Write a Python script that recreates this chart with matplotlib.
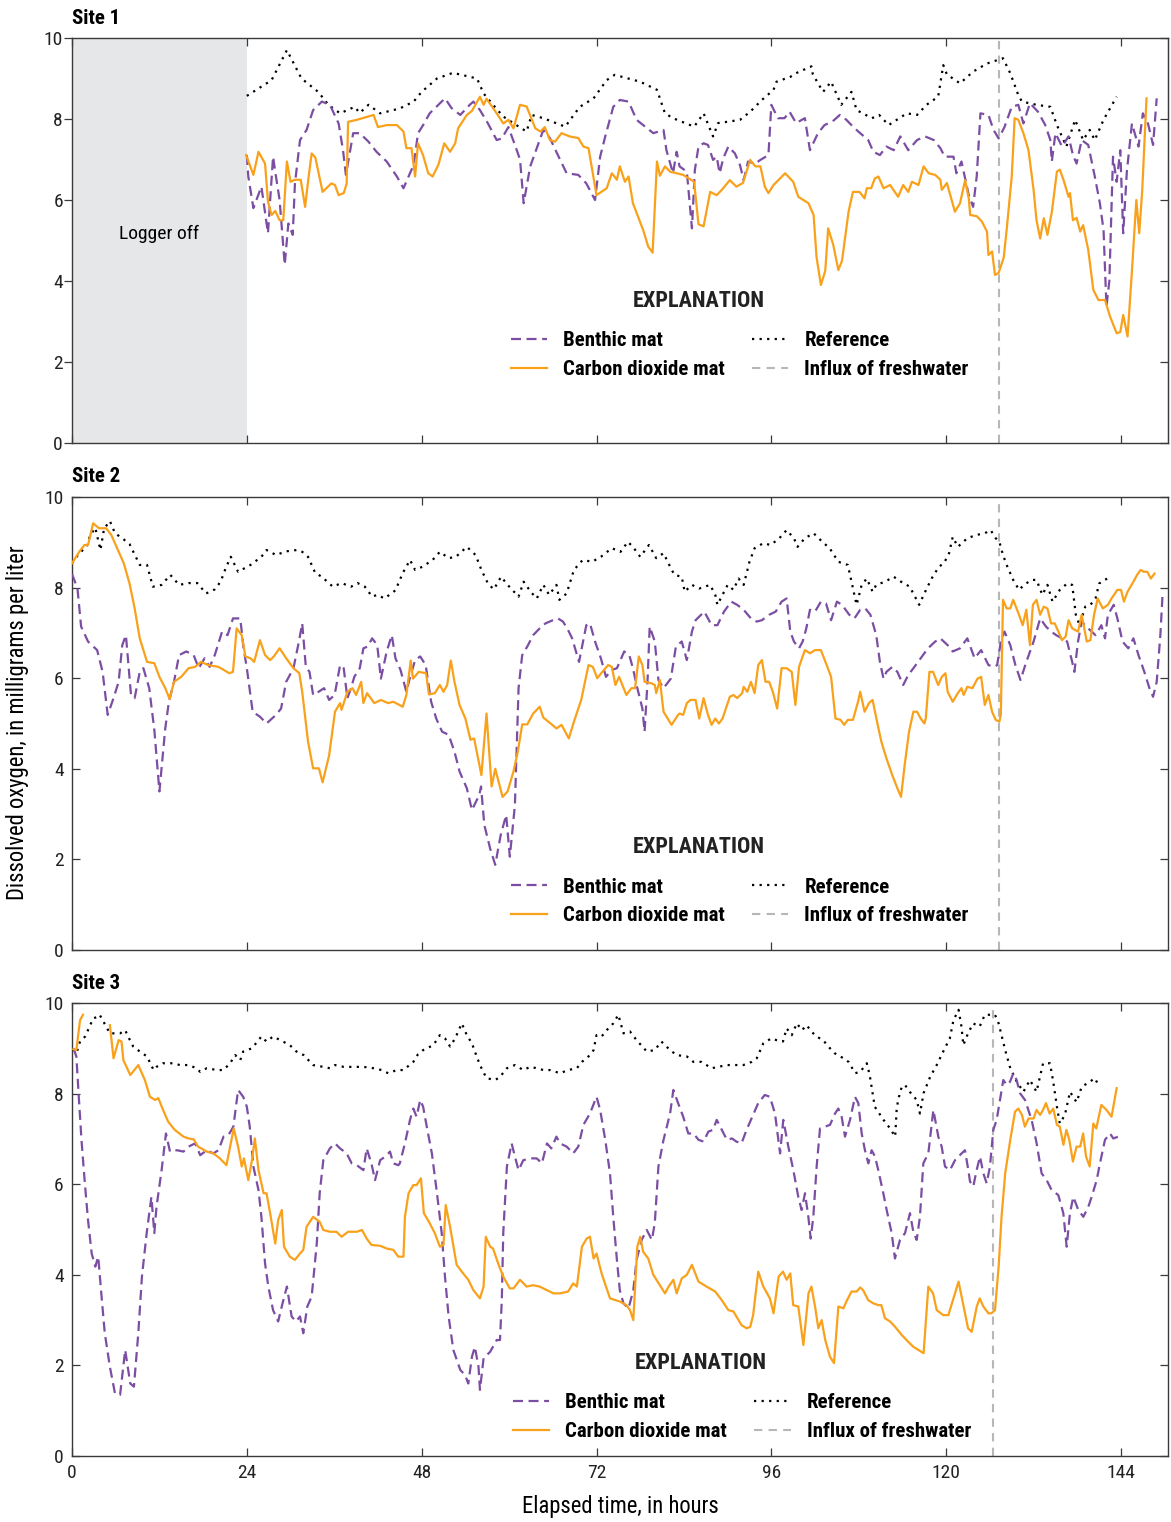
import numpy as np
import matplotlib.pyplot as plt
from matplotlib import font_manager as fm

# pick a narrow face if one is installed (reference uses a condensed sans)
_fonts = fm.fontManager.ttflist
_names = {f.name for f in _fonts}
if 'Liberation Sans Narrow' in _names:
    plt.rcParams['font.family'] = ['Liberation Sans Narrow', 'DejaVu Sans']
    font_note = 'narrow'
elif 'Roboto Condensed' in _names:
    plt.rcParams['font.family'] = ['Roboto Condensed', 'DejaVu Sans']
    font_note = 'roboto-c'
elif any(f.name == 'DejaVu Sans' and 'condensed' in str(f.stretch) for f in _fonts):
    plt.rcParams['font.family'] = ['DejaVu Sans']
    plt.rcParams['font.stretch'] = 'condensed'
    font_note = 'dejavu-c'
else:
    plt.rcParams['font.family'] = ['Liberation Sans', 'DejaVu Sans']
    font_note = 'liberation'

# ---------------- data (elapsed hours, dissolved oxygen mg/L) ----------------
# Site 1
s1_ref_t = [24.0, 27.4, 29.5, 31.5, 33.8, 35.2, 36.8, 38.8, 39.5, 40.7, 42.3, 45.0, 46.9, 48.0, 50.1, 52.3,
            55.6, 56.5, 57.8, 59.2, 61.0, 62.4, 63.1, 64.7, 67.7, 69.7, 71.6, 73.4, 74.5, 78.0, 80.3, 81.4,
            82.5, 85.4, 86.7, 88.0, 88.7, 90.3, 91.7, 93.1, 94.7, 96.3, 96.7, 98.6, 99.5, 101.5, 101.7, 103.1,
            104.2, 105.6, 107.0, 107.7, 109.8, 110.8, 112.1, 114.6, 116.0, 117.3, 118.9, 119.6, 120.1, 121.9,
            123.7, 125.6, 127.8, 128.8, 129.9, 130.4, 132.4, 134.3, 135.2, 136.5, 137.7, 138.8, 139.7, 140.4,
            141.6, 143.4]
s1_ref_v = [8.57, 8.96, 9.70, 9.0, 8.67, 8.35, 8.14, 8.30, 8.15, 8.35, 8.14, 8.26, 8.43, 8.67, 9.0, 9.14,
            9.0, 8.63, 8.35, 8.06, 7.85, 7.69, 8.1, 8.02, 7.81, 8.30, 8.51, 8.96, 9.09, 8.92, 8.72, 8.14,
            8.02, 7.81, 8.14, 7.57, 7.9, 7.94, 7.98, 8.18, 8.47, 8.72, 8.92, 9.04, 9.14, 9.3, 9.1, 8.67,
            8.92, 8.35, 8.67, 8.22, 8.02, 8.1, 7.85, 8.14, 8.1, 8.35, 8.55, 9.33, 9.1, 8.88,
            9.17, 9.37, 9.5, 9.13, 8.59, 8.43, 8.35, 8.30, 7.85, 7.32, 7.98, 7.48, 7.73, 7.48,
            7.98, 8.55]

s1_co2_t = [23.9, 24.9, 25.6, 26.5, 26.9, 27.4, 27.9, 28.5, 29.0, 29.5, 30.0, 30.6, 31.4, 32.0, 32.5, 32.9,
            33.4, 34.4, 35.6, 36.1, 36.6, 37.3, 37.7, 37.9, 39.1, 41.4, 42.0, 43.2, 44.6, 45.5, 45.9, 46.6,
            47.1, 47.5, 48.2, 48.9, 49.5, 50.3, 51.1, 51.9, 52.6, 53.0, 54.2, 54.9, 56.0, 56.5, 56.9, 58.3,
            59.2, 59.9, 60.6, 61.5, 62.4, 63.6, 64.3, 64.9, 65.6, 66.3, 67.2, 68.3, 69.5, 70.2, 70.9, 72.0,
            73.4, 74.1, 74.8, 75.2, 75.9, 76.4, 77.0, 78.4, 79.1, 79.7, 80.3, 80.7, 81.4, 82.1, 83.9, 85.4,
            86.0, 86.7, 87.6, 88.5, 89.2, 90.3, 91.2, 92.1, 93.1, 93.8, 94.5, 95.1, 95.6, 96.3, 97.9, 99.0,
            99.7, 101.1, 101.8, 102.2, 102.8, 103.4, 103.8, 104.5, 105.2, 105.7, 106.6, 107.2, 108.1, 108.8,
            109.1, 109.7, 110.2, 110.7, 111.4, 112.3, 113.4, 114.1, 114.8, 115.3, 116.2, 116.9, 117.6, 118.5,
            119.2, 119.4, 120.1, 121.2, 121.9, 122.6, 123.1, 123.3, 124.2, 124.9, 125.6, 125.8, 126.3, 126.7,
            127.2, 127.9, 128.3, 129.0, 129.4, 129.9, 130.6, 131.3, 132.0, 132.4, 132.9, 133.4, 133.9, 134.5,
            135.2, 135.6, 136.1, 136.8, 137.0, 137.4, 137.9, 138.4, 138.8, 139.5, 140.2, 140.9, 141.8, 142.5,
            143.4, 143.9, 144.3, 144.9, 145.5, 146.1, 146.5, 146.9, 147.5]
s1_co2_v = [7.11, 6.62, 7.19, 6.9, 5.96, 5.63, 5.73, 5.5, 5.5, 6.95, 6.45, 6.5, 6.5, 5.83, 6.6, 7.15,
            7.05, 6.2, 6.41, 6.37, 6.12, 6.17, 6.4, 7.93, 7.98, 8.1, 7.8, 7.85, 7.85, 7.69, 7.28, 7.28,
            6.58, 7.4, 7.1, 6.66, 6.58, 6.87, 7.4, 7.19, 7.4, 7.77, 8.1, 8.2, 8.55, 8.35, 8.5, 8.14,
            7.89, 7.98, 7.77, 8.35, 8.31, 7.77, 7.69, 7.8, 7.48, 7.44, 7.65, 7.57, 7.53, 7.32, 7.28, 6.12,
            6.29, 6.66, 6.5, 6.83, 6.45, 6.58, 5.92, 5.26, 4.85, 4.70, 6.95, 6.6, 6.83, 6.7, 6.62, 6.45,
            5.40, 5.35, 6.2, 6.12, 6.25, 6.49, 6.33, 6.42, 6.99, 6.83, 6.83, 6.33, 6.17, 6.37, 6.66, 6.45,
            6.08, 5.92, 5.63, 4.6, 3.9, 4.25, 5.3, 4.89, 4.27, 4.5, 5.71, 6.2, 6.2, 6.04,
            6.29, 6.29, 6.53, 6.58, 6.29, 6.37, 6.08, 6.37, 6.2, 6.45, 6.37, 6.83, 6.66, 6.62,
            6.5, 6.25, 6.42, 5.71, 5.92, 6.49, 6.04, 5.63, 5.6, 5.47, 5.22, 4.64, 4.73, 4.15,
            4.2, 4.58, 5.26, 6.58, 8.02, 7.98, 7.65, 7.23, 6.25, 5.5, 5.05, 5.55, 5.14, 5.7,
            6.7, 6.75, 6.5, 6.08, 6.17, 5.5, 5.56, 5.22, 5.38, 4.77, 3.78, 3.53, 3.53, 3.12,
            2.71, 2.74, 3.16, 2.63, 4.25, 6.0, 5.18, 6.2, 8.51]

s1_ben_t = [24.0, 24.2, 24.9, 26.0, 26.9, 27.6, 28.0, 28.5, 29.2, 29.7, 30.3, 30.6, 31.3, 32.2, 33.1, 34.3,
            35.4, 36.6, 37.2, 37.6, 38.6, 39.5, 40.7, 41.8, 43.2, 44.6, 45.5, 46.2, 46.9, 47.5, 48.2, 49.1,
            50.0, 51.2, 52.1, 53.3, 54.6, 55.1, 56.0, 57.1, 58.3, 59.0, 59.9, 60.8, 61.5, 62.0, 62.9, 63.8,
            64.7, 65.6, 66.8, 67.9, 69.5, 70.6, 71.8, 72.5, 73.2, 74.3, 75.2, 76.4, 77.5, 78.4, 79.8, 81.2,
            81.6, 82.5, 83.0, 83.4, 84.4, 85.1, 85.5, 86.0, 86.7, 87.3, 88.0, 88.5, 88.9, 89.4, 90.1, 91.0,
            91.7, 92.2, 92.8, 93.8, 94.5, 95.6, 96.0, 96.9, 97.8, 98.5, 99.4, 100.6, 101.3, 102.4, 103.3, 104.4,
            105.4, 106.3, 107.2, 108.2, 109.3, 110.0, 110.9, 111.8, 112.8, 113.7, 114.8, 116.0, 117.1, 118.3,
            119.2, 119.8, 121.0, 121.4, 122.1, 122.6, 123.1, 123.7, 124.2, 124.7, 125.8, 126.5, 127.2, 128.0,
            129.0, 129.9, 130.6, 131.5, 132.6, 133.6, 134.3, 134.5, 135.0, 135.9, 136.8, 137.4, 137.9, 138.6,
            139.5, 140.4, 141.1, 141.6, 142.0, 142.4, 142.9, 143.4, 143.9, 144.3, 144.8, 145.5, 146.4, 147.0,
            147.7, 148.4, 148.9]
s1_ben_v = [7.11, 6.58, 5.8, 6.33, 5.18, 7.07, 6.58, 6.0, 4.4, 5.42, 5.14, 6.4, 7.48, 7.73, 8.22, 8.43,
            8.35, 7.89, 7.23, 6.62, 7.65, 7.65, 7.44, 7.19, 6.95, 6.58, 6.29, 6.58, 6.87, 7.65, 7.85, 8.14,
            8.3, 8.51, 8.27, 8.1, 8.35, 8.43, 8.22, 7.89, 7.48, 7.52, 7.8, 7.36, 7.0, 5.92, 6.83, 7.28,
            7.73, 7.53, 7.07, 6.66, 6.62, 6.41, 6.0, 7.07, 7.57, 8.3, 8.47, 8.43, 7.98, 7.85, 7.65, 7.73,
            7.23, 6.66, 7.19, 6.83, 6.7, 5.3, 6.74, 7.32, 7.4, 7.36, 6.99, 7.07, 6.66, 7.03, 7.32, 7.15,
            6.86, 6.49, 6.95, 6.9, 6.99, 7.11, 8.35, 8.02, 8.02, 8.18, 7.9, 8.02, 7.23, 7.65, 7.85, 7.94,
            8.1, 7.98, 7.81, 7.65, 7.48, 7.19, 7.11, 7.32, 7.23, 7.57, 7.23, 7.48, 7.57, 7.48,
            7.28, 7.07, 7.07, 6.66, 6.95, 6.53, 6.12, 5.83, 6.6, 8.14, 8.1, 7.73, 7.52, 7.8,
            8.3, 8.35, 7.89, 8.39, 8.18, 7.85, 7.48, 6.95, 7.65, 7.32, 7.57, 7.11, 6.9, 7.48,
            7.36, 6.58, 5.92, 5.26, 3.37, 4.0, 7.07, 6.45, 7.23, 5.18, 6.7, 7.89, 7.32, 8.14,
            7.89, 7.36, 8.51]

# Site 2
s2_ref_t = [0.0, 1.0, 2.0, 2.5, 3.2, 3.9, 4.4, 5.2, 5.9, 6.9, 7.9, 9.3, 10.3, 11.1, 12.3, 13.5, 14.7, 16.0,
            17.2, 18.4, 19.6, 20.4, 21.1, 21.8, 22.8, 24.5, 26.0, 26.7, 28.0, 29.4, 30.9, 31.6, 32.4, 33.4,
            34.3, 35.8, 37.0, 38.3, 39.2, 40.2, 41.2, 41.9, 42.9, 44.4, 45.4, 46.4, 47.1, 48.1, 49.5, 50.5,
            51.7, 52.7, 54.2, 55.4, 56.2, 57.1, 57.9, 58.9, 59.8, 61.3, 62.0, 63.0, 63.8, 64.7, 65.5, 66.5,
            66.9, 67.9, 68.9, 70.1, 71.4, 72.6, 74.1, 75.3, 76.3, 77.0, 78.0, 79.2, 80.2, 81.2, 82.2, 82.7,
            83.7, 84.1, 85.1, 86.1, 87.6, 88.3, 88.6, 89.3, 90.0, 90.8, 91.5, 92.2, 93.0, 93.7, 94.9, 95.9,
            97.1, 98.1, 99.1, 99.6, 100.6, 101.8, 103.0, 104.0, 105.2, 106.5, 107.2, 107.7, 108.4, 109.1,
            109.9, 110.4, 111.6, 112.8, 113.8, 115.0, 116.3, 117.0, 118.0, 119.0, 119.7, 120.4, 120.9, 121.6,
            122.9, 124.1, 125.3, 126.1, 126.8, 127.3, 127.8, 128.3, 129.2, 130.0, 130.7, 131.7, 132.4, 133.2,
            133.9, 134.6, 135.6, 136.6, 137.3, 137.8, 138.3, 139.1, 139.8, 140.5, 141.0, 141.7, 142.2]
s2_ref_v = [8.54, 8.76, 8.9, 9.16, 9.32, 8.83, 9.3, 9.47, 9.2, 9.09, 8.96, 8.5, 8.5, 8.02, 8.06, 8.28, 8.06, 8.1,
            8.1, 7.87, 7.96, 8.13, 8.43, 8.68, 8.35, 8.5, 8.68, 8.83, 8.72, 8.8, 8.83, 8.79, 8.68, 8.32,
            8.24, 8.02, 8.1, 8.02, 8.1, 8.02, 7.8, 7.84, 7.76, 7.94, 8.32, 8.61, 8.39, 8.46, 8.61, 8.79,
            8.65, 8.68, 8.9, 8.72, 8.39, 8.09, 7.96, 8.24, 8.06, 7.8, 8.13, 7.9, 7.76, 8.06, 7.84, 8.06,
            7.73, 7.87, 8.39, 8.61, 8.57, 8.68, 8.87, 8.79, 9.01, 8.90, 8.68, 8.94, 8.65, 8.76, 8.43, 8.28,
            8.24, 7.91, 8.06, 7.98, 8.06, 7.84, 7.62, 7.84, 8.06, 7.95, 8.2, 8.06, 8.57, 8.87, 8.98, 8.94,
            9.09, 9.27, 9.09, 8.9, 9.09, 9.2, 9.01, 8.87, 8.57, 8.5, 7.98, 7.62, 8.06, 8.2,
            7.91, 8.06, 8.13, 8.24, 8.13, 8.02, 7.62, 7.87, 8.2, 8.46, 8.54, 8.76, 9.12, 8.9,
            9.09, 9.16, 9.2, 9.27, 9.09, 9.01, 8.72, 8.5, 8.17, 7.95, 8.06, 8.17, 8.17, 7.84,
            8.06, 7.69, 7.95, 8.09, 8.06, 7.4, 7.17, 7.58, 7.62, 7.76, 8.09, 8.17, 8.2]

s2_co2_t = [0.0, 1.0, 1.7, 2.2, 2.9, 3.7, 4.7, 5.4, 6.2, 7.1, 7.9, 8.6, 9.3, 10.3, 11.3, 12.0, 12.8, 13.4,
            14.0, 15.0, 16.0, 16.9, 17.7, 18.7, 20.1, 21.6, 22.1, 22.6, 23.3, 23.8, 24.5, 25.0, 25.8, 26.5,
            27.2, 27.7, 28.5, 29.4, 30.4, 31.2, 31.6, 32.4, 33.1, 33.9, 34.4, 35.3, 36.1, 36.8, 37.0, 37.8,
            38.5, 39.0, 39.7, 40.0, 40.5, 41.5, 42.4, 43.4, 44.1, 45.4, 45.9, 46.5, 46.8, 47.6, 48.6, 49.0,
            49.8, 50.5, 51.0, 51.5, 52.0, 52.5, 53.2, 54.0, 54.7, 55.2, 56.2, 56.9, 57.6, 58.1, 59.1, 59.8,
            60.6, 61.2, 61.8, 62.5, 63.3, 64.2, 64.7, 65.7, 66.5, 67.2, 68.2, 68.9, 69.9, 70.9, 71.5, 72.1,
            72.8, 73.6, 74.1, 74.6, 75.1, 76.1, 76.8, 77.3, 77.8, 78.3, 78.6, 79.5, 80.0, 80.2, 80.7, 81.2,
            82.3, 83.2, 83.4, 83.9, 84.4, 84.9, 85.6, 86.1, 86.7, 87.3, 87.8, 88.3, 88.8, 89.3, 90.3, 90.8,
            91.3, 92.0, 92.2, 92.7, 93.2, 93.7, 94.2, 94.7, 95.2, 95.7, 96.2, 96.8, 97.4, 98.1, 98.8, 99.3,
            99.8, 100.6, 101.3, 102.0, 102.8, 103.5, 104.2, 104.8, 105.5, 106.0, 106.5, 107.2, 107.9, 108.2,
            108.8, 109.4, 109.9, 110.6, 111.1, 111.8, 112.6, 113.3, 113.8, 114.3, 114.9, 115.5, 116.0, 116.5,
            117.0, 117.2, 117.7, 118.2, 118.9, 119.4, 119.9, 120.2, 120.9, 121.6, 122.1, 122.4, 122.9, 123.6,
            124.3, 124.8, 125.3, 125.8, 126.3, 126.8, 127.3, 127.5, 127.8, 128.3, 128.8, 129.2, 130.0, 130.5,
            131.0, 131.5, 131.9, 132.4, 132.9, 133.4, 133.9, 134.4, 134.9, 135.4, 135.9, 136.4, 136.8, 137.3,
            138.1, 138.6, 139.3, 139.8, 140.3, 140.8, 141.5, 142.2, 142.7, 143.5, 144.0, 144.4, 144.9, 145.7,
            146.2, 146.7, 147.1, 147.6, 148.1, 148.6]
s2_co2_v = [8.54, 8.79, 8.94, 8.94, 9.42, 9.31, 9.31, 9.16, 8.87, 8.54, 8.09, 7.54, 6.88, 6.36, 6.33, 6.03, 5.78, 5.54,
            5.92, 6.03, 6.22, 6.25, 6.36, 6.29, 6.25, 6.11, 6.14, 7.10, 6.95, 6.48, 6.44, 6.36, 6.84, 6.51,
            6.40, 6.48, 6.66, 6.44, 6.22, 6.11, 5.70, 4.60, 4.01, 4.01, 3.70, 4.30, 5.26, 5.45, 5.30, 5.70,
            5.78, 5.63, 5.92, 5.45, 5.67, 5.45, 5.52, 5.45, 5.48, 5.37, 5.63, 6.39, 5.99, 6.14, 6.11, 5.64,
            5.67, 5.85, 5.70, 5.85, 6.39, 5.92, 5.41, 5.11, 4.64, 4.67, 3.86, 5.22, 3.61, 4.0, 3.38, 3.50,
            3.94, 4.38, 4.98, 4.98, 5.22, 5.37, 5.13, 5.0, 4.89, 4.97, 4.67, 5.04, 5.52, 6.29, 6.25, 6.0,
            6.14, 6.29, 6.25, 5.85, 6.03, 5.63, 5.78, 5.78, 6.48, 6.29, 5.92, 5.89, 5.85, 5.67, 5.96, 5.26,
            4.97, 5.19, 5.22, 5.19, 5.45, 5.52, 5.52, 5.11, 5.56, 5.19, 4.97, 5.11, 5.0, 5.11, 5.59, 5.63,
            5.56, 5.67, 5.81, 5.70, 5.92, 5.67, 6.29, 6.40, 5.92, 5.92, 5.70, 5.33, 6.22, 6.22, 6.14, 5.41,
            6.25, 6.62, 6.55, 6.62, 6.62, 6.33, 6.03, 5.11, 5.08, 4.97, 5.08, 5.08, 5.48, 5.70,
            5.26, 5.45, 5.52, 4.97, 4.60, 4.23, 3.86, 3.57, 3.38, 4.08, 4.82, 5.26, 5.26, 5.11,
            5.0, 5.11, 6.14, 6.14, 5.85, 6.03, 6.11, 5.70, 5.48, 5.67, 5.78, 5.63, 5.81, 5.78,
            5.99, 6.03, 5.41, 5.63, 5.26, 5.08, 5.04, 5.19, 7.73, 7.54, 7.54, 7.73, 7.40, 7.17,
            7.51, 6.73, 7.62, 7.73, 7.40, 7.58, 7.54, 7.21, 7.21, 7.03, 6.84, 6.92, 7.28, 7.10,
            7.03, 7.40, 6.81, 6.84, 7.40, 7.76, 7.54, 7.62, 7.76, 7.95, 7.95, 7.69, 7.91, 8.13,
            8.28, 8.39, 8.35, 8.35, 8.20, 8.31]

s2_ben_t = [0.0, 0.75, 1.25, 2.2, 3.45, 4.2, 4.9, 5.7, 6.4, 6.9, 7.4, 8.1, 8.6, 9.3, 9.8, 10.6, 11.3, 12.0,
            12.8, 13.3, 14.0, 14.7, 15.7, 16.7, 17.4, 18.2, 18.9, 19.6, 20.6, 21.35, 22.1, 23.1, 23.55, 24.0,
            24.8, 25.8, 26.7, 28.0, 28.7, 29.4, 30.4, 31.15, 31.6, 32.1, 32.6, 33.1, 33.85, 34.6, 35.3, 36.05,
            36.8, 37.3, 37.8, 38.3, 38.75, 39.5, 40.0, 40.6, 41.2, 41.9, 42.4, 43.2, 43.9, 44.4, 45.1, 45.9,
            46.35, 47.1, 47.8, 48.55, 49.3, 50.0, 50.8, 51.7, 52.5, 53.2, 54.2, 54.9, 55.9, 56.15, 56.6, 57.4,
            58.1, 58.85, 59.6, 60.1, 60.8, 61.06, 61.3, 61.8, 62.5, 63.3, 64.2, 65.0, 66.0, 66.7, 67.4, 68.2,
            68.65, 69.6, 70.6, 71.1, 71.8, 72.6, 73.3, 74.05, 74.8, 75.8, 76.5, 77.0, 77.5, 78.3, 78.6, 79.0,
            79.3, 80.0, 80.5, 81.2, 82.2, 82.9, 83.7, 84.4, 85.1, 85.6, 86.8, 87.8, 88.6, 89.5, 90.5, 91.3,
            92.2, 93.2, 94.0, 94.7, 95.7, 96.6, 97.4, 98.1, 98.6, 99.1, 99.8, 100.3, 100.8, 101.3, 102.0, 102.8,
            103.5, 104.2, 105.0, 105.7, 106.7, 107.4, 108.2, 108.9, 109.6, 110.4, 110.9, 111.4, 111.8, 112.6,
            113.3, 114.1, 114.8, 115.5, 116.5, 117.5, 118.5, 119.2, 120.2, 120.9, 121.9, 122.9, 123.9, 124.8,
            125.8, 126.6, 127.0, 127.5, 128.0, 128.8, 129.5, 130.2, 131.0, 132.0, 132.9, 133.7, 134.4, 135.1,
            135.9, 136.6, 137.3, 137.6, 138.1, 138.6, 139.5, 140.5, 141.3, 141.8, 142.2, 143.0, 143.5, 144.2,
            145.0, 145.7, 146.4, 147.2, 147.9, 148.4, 148.9, 149.4, 149.7]
s2_ben_v = [8.3, 7.98, 7.14, 6.81, 6.62, 6.14, 5.19, 5.56, 5.92, 6.73, 6.95, 5.63, 5.56, 6.14, 6.22, 5.78, 4.86, 3.50,
            4.89, 5.48, 5.92, 6.51, 6.59, 6.51, 6.22, 6.44, 6.25, 6.51, 7.03, 6.95, 7.32, 7.32, 6.66, 6.22,
            5.26, 5.15, 5.0, 5.19, 5.33, 5.92, 6.22, 6.81, 7.21, 6.25, 6.14, 5.63, 5.70, 5.78, 5.52, 5.63,
            6.29, 6.22, 5.56, 5.78, 6.03, 6.22, 6.66, 6.70, 6.88, 6.73, 5.99, 6.59, 6.95, 6.44, 6.18, 5.70,
            5.99, 6.40, 6.48, 6.29, 5.48, 5.11, 4.82, 4.75, 4.38, 3.94, 3.57, 3.09, 3.42, 3.61, 2.76, 2.24,
            1.88, 2.54, 2.98, 2.06, 3.20, 4.53, 5.78, 6.51, 6.70, 6.95, 7.10, 7.21, 7.28, 7.32, 7.25, 7.03,
            6.88, 6.36, 7.17, 7.21, 6.81, 6.44, 6.03, 6.18, 6.22, 6.59, 6.51, 6.22, 5.85, 5.33, 4.82, 5.92,
            7.14, 6.81, 5.96, 5.78, 5.99, 6.70, 6.81, 6.40, 7.03, 7.28, 7.47, 7.17, 7.17, 7.47, 7.69, 7.62,
            7.51, 7.32, 7.25, 7.28, 7.40, 7.47, 7.69, 7.76, 7.03, 6.81, 6.66, 6.81, 7.10, 7.51, 7.47, 7.69,
            7.65, 7.28, 7.69, 7.62, 7.40, 7.32, 7.51, 7.54, 7.40, 6.95, 6.36, 5.99, 6.14, 6.25,
            6.14, 5.85, 6.07, 6.22, 6.44, 6.66, 6.81, 6.88, 6.73, 6.59, 6.66, 6.88, 6.44, 6.62,
            6.29, 6.25, 6.29, 6.81, 7.03, 6.73, 6.29, 5.96, 6.36, 6.81, 7.32, 7.14, 7.03, 6.95,
            6.88, 6.81, 6.36, 6.14, 6.81, 7.25, 7.10, 6.95, 7.17, 6.88, 7.40, 7.62, 7.32, 6.81,
            6.66, 6.88, 6.51, 6.14, 5.78, 5.59, 5.92, 6.95, 7.84]

# Site 3
s3_ref_t = [0.2, 0.6, 1.1, 1.8, 2.5, 2.9, 3.6, 3.8, 5.2, 5.9, 6.6, 7.3, 7.7, 8.4, 9.3, 10.3, 11.2, 11.6,
            12.5, 13.9, 14.8, 16.0, 17.1, 17.6, 18.5, 19.9, 20.8, 21.7, 22.4, 23.1, 23.5, 24.7, 25.6, 26.0,
            26.7, 27.6, 28.6, 29.9, 30.8, 31.8, 33.1, 34.5, 35.4, 36.1, 37.3, 38.6, 40.0, 41.4, 42.5, 43.4,
            44.6, 45.5, 46.85, 47.5, 48.2, 49.6, 50.5, 51.2, 51.9, 52.6, 53.5, 54.2, 54.9, 55.3, 56.0, 56.9,
            58.1, 58.75, 59.7, 60.8, 61.95, 62.9, 63.8, 64.7, 65.6, 67.0, 68.1, 69.3, 70.0, 70.9, 71.6, 72.0,
            72.7, 73.4, 74.3, 75.0, 75.7, 76.6, 77.5, 78.9, 80.0, 80.9, 82.1, 83.0, 84.4, 85.3, 86.4, 87.8,
            88.7, 89.9, 91.0, 92.15, 93.3, 94.0, 94.9, 96.0, 96.7, 97.6, 98.1, 98.8, 99.5, 100.2, 100.85, 101.5,
            102.2, 103.1, 104.05, 104.7, 105.9, 106.6, 107.5, 108.2, 109.1, 109.5, 110.2, 111.4, 112.3, 113.0,
            113.2, 113.4, 113.9, 114.35, 115.0, 115.95, 116.4, 116.9, 117.8, 118.7, 119.6, 120.5, 121.0, 121.7,
            122.1, 122.35, 123.0, 123.7, 124.6, 125.3, 126.7, 127.2, 128.1, 128.8, 129.7, 130.6, 131.5, 132.4,
            133.3, 134.25, 134.7, 135.2, 135.6, 136.3, 137.0, 137.9, 138.6, 139.7, 140.4, 140.9]
s3_ref_v = [8.98, 8.89, 9.15, 9.26, 9.51, 9.66, 9.70, 9.74, 9.33, 9.33, 9.33, 9.40, 9.26, 9.04, 8.93, 8.82, 8.52, 8.59,
            8.67, 8.67, 8.63, 8.63, 8.56, 8.48, 8.56, 8.52, 8.52, 8.67, 8.85, 8.74, 8.93, 9.0, 9.18, 9.26,
            9.15, 9.26, 9.18, 9.07, 8.93, 8.85, 8.63, 8.59, 8.56, 8.63, 8.59, 8.59, 8.59, 8.56, 8.52, 8.45,
            8.52, 8.52, 8.70, 8.87, 8.96, 9.07, 9.29, 9.22, 9.04, 9.22, 9.55, 9.29, 9.11, 8.93, 8.63, 8.34,
            8.30, 8.37, 8.56, 8.63, 8.52, 8.59, 8.56, 8.52, 8.52, 8.45, 8.52, 8.56, 8.70, 8.82, 8.96, 9.29,
            9.26, 9.40, 9.55, 9.74, 9.33, 9.37, 9.18, 8.93, 8.96, 9.15, 8.96, 8.85, 8.82, 8.70, 8.70, 8.56,
            8.59, 8.63, 8.63, 8.63, 8.70, 8.78, 9.11, 9.22, 9.18, 9.15, 9.44, 9.29, 9.55, 9.40, 9.51, 9.37,
            9.26, 9.18, 9.0, 8.89, 8.78, 8.70, 8.45, 8.48, 8.67, 8.41, 7.71, 7.42, 7.23, 7.05,
            7.64, 7.86, 8.15, 8.19, 8.04, 7.86, 7.56, 8.01, 8.37, 8.63, 8.93, 9.22, 9.62, 9.85,
            9.48, 9.07, 9.33, 9.55, 9.48, 9.74, 9.74, 9.55, 8.96, 8.56, 8.26, 8.04, 8.30, 8.04,
            8.67, 8.67, 8.26, 7.71, 7.34, 7.53, 8.04, 7.81, 8.15, 8.26, 8.34, 8.19]

s3_co2_t = [0.2, 0.6, 1.1, 1.5, 3.3, 5.2, 5.7, 6.4, 6.8, 7.05, 8.0, 9.1, 10.0, 10.7, 11.4, 11.85, 12.5, 13.2,
            14.1, 15.3, 16.0, 16.7, 17.3, 18.5, 19.4, 20.3, 21.2, 21.7, 22.2, 22.8, 23.3, 23.6, 24.2, 24.7,
            25.1, 25.6, 26.3, 26.7, 27.2, 27.9, 28.3, 28.8, 29.1, 29.9, 30.6, 31.3, 31.75, 32.2, 33.1, 34.0,
            34.5, 35.4, 36.3, 37.0, 37.9, 39.1, 39.8, 40.45, 41.1, 42.3, 43.2, 44.1, 44.8, 45.5, 45.7, 46.2,
            46.85, 47.3, 47.9, 48.3, 49.1, 49.8, 50.5, 51.0, 51.3, 51.9, 52.8, 53.7, 54.4, 55.1, 56.0, 56.5,
            56.8, 57.4, 57.8, 58.5, 59.2, 60.1, 60.6, 61.5, 62.4, 63.3, 64.2, 65.2, 66.1, 67.0, 68.1, 68.8,
            69.3, 70.0, 70.65, 71.1, 71.6, 72.0, 72.7, 73.85, 75.2, 76.1, 76.6, 77.05, 77.6, 78.0, 78.4, 79.1,
            79.8, 80.7, 81.4, 81.9, 82.55, 83.0, 83.7, 84.4, 85.1, 86.0, 87.1, 88.3, 89.2, 90.1, 90.8, 91.9,
            92.6, 93.1, 93.5, 94.2, 94.9, 95.8, 96.3, 97.0, 97.6, 98.1, 98.6, 99.0, 99.7, 100.4, 101.1, 101.5,
            102.0, 102.45, 102.9, 103.4, 104.05, 104.6, 105.2, 105.9, 106.3, 107.0, 107.7, 108.2, 108.6, 109.3,
            110.0, 110.7, 111.1, 111.6, 112.3, 113.0, 113.9, 114.8, 115.5, 116.2, 116.9, 117.55, 118.2, 118.7,
            119.6, 120.3, 121.0, 121.7, 122.35, 123.0, 123.5, 124.2, 124.6, 125.1, 125.8, 126.2, 126.7, 127.2,
            127.6, 128.1, 128.8, 129.45, 129.9, 130.4, 130.8, 131.3, 132.0, 132.4, 132.9, 133.3, 133.7, 134.2,
            134.7, 135.2, 135.6, 136.1, 136.5, 136.9, 137.4, 137.9, 138.4, 138.8, 139.2, 139.7, 140.2, 140.6,
            141.3, 142.0, 142.7, 143.4]
s3_co2_v = [8.98, 8.96, 9.62, 9.74, np.nan, 9.51, 8.78, 9.18, 9.15, 8.74, 8.41, 8.63, 8.30, 7.93, 7.86, 7.90, 7.64, 7.38,
            7.20, 7.05, 7.01, 6.99, 6.83, 6.72, 6.68, 6.57, 6.42, 6.83, 7.23, 6.83, 6.39, 6.57, 6.09, 6.53,
            7.01, 6.31, 5.80, 5.80, 5.36, 4.69, 5.21, 5.43, 4.62, 4.40, 4.33, 4.47, 4.55, 5.06, 5.28, 5.17,
            4.99, 4.95, 4.95, 4.84, 4.95, 4.95, 4.99, 4.80, 4.66, 4.64, 4.58, 4.55, 4.40, 4.40, 5.28, 5.80,
            5.98, 5.98, 6.13, 5.36, 5.14, 4.92, 4.62, 4.66, 5.54, 5.06, 4.22, 4.03, 3.89, 3.66, 3.48, 3.74,
            4.84, 4.62, 4.58, 4.25, 3.96, 3.70, 3.70, 3.89, 3.74, 3.77, 3.74, 3.66, 3.59, 3.59, 3.63, 3.81,
            3.74, 4.62, 4.80, 4.84, 4.36, 4.47, 4.03, 3.48, 3.41, 3.33, 3.22, 3.0, 4.62, 4.84, 4.51, 4.36,
            4.0, 3.77, 3.59, 3.74, 3.89, 3.59, 3.92, 4.0, 4.22, 3.85, 3.74, 3.63, 3.44, 3.22, 3.19, 2.89,
            2.82, 2.85, 3.11, 4.07, 3.74, 3.48, 3.15, 3.96, 4.07, 3.89, 4.03, 3.33, 3.30, 2.45, 3.59, 3.74,
            3.30, 2.82, 3.0, 2.56, 2.19, 2.05, 3.30, 3.26, 3.41, 3.63, 3.63, 3.72, 3.66, 3.44,
            3.37, 3.33, 3.33, 3.04, 2.97, 2.85, 2.67, 2.52, 2.41, 2.34, 2.27, 3.74, 3.59, 3.22,
            3.11, 3.11, 3.48, 3.85, 3.33, 2.82, 2.74, 3.30, 3.48, 3.30, 3.15, 3.15, 3.22, 4.18,
            5.28, 6.24, 6.98, 7.60, 7.67, 7.53, 7.27, 7.45, 7.45, 7.64, 7.53, 7.64, 7.79, 7.56,
            7.67, 7.31, 7.27, 6.87, 7.20, 6.98, 6.50, 6.83, 6.83, 7.12, 6.61, 6.39, 7.34, 7.23,
            7.75, 7.64, 7.49, 8.12]

s3_ben_t = [0.2, 0.6, 0.9, 1.3, 1.8, 2.2, 2.7, 3.2, 3.6, 4.1, 4.5, 5.2, 5.9, 6.6, 7.3, 8.0, 8.5, 9.1,
            9.6, 10.25, 10.9, 11.3, 11.6, 12.3, 12.9, 13.45, 14.4, 15.3, 16.0, 16.9, 17.6, 18.5, 19.4, 20.1,
            20.8, 21.5, 22.15, 22.8, 23.5, 24.0, 24.4, 24.9, 25.6, 26.0, 26.5, 26.95, 27.6, 28.3, 28.9, 29.5,
            30.15, 30.75, 31.3, 31.75, 32.3, 32.9, 33.6, 34.0, 34.5, 35.4, 36.1, 36.8, 37.7, 38.4, 39.1, 40.0,
            40.45, 41.1, 41.6, 42.3, 43.0, 43.65, 44.1, 44.8, 45.0, 45.7, 46.4, 46.85, 47.3, 47.8, 48.2, 48.7,
            49.4, 50.1, 50.75, 51.2, 51.7, 52.35, 53.3, 53.95, 54.4, 54.9, 55.3, 55.8, 56.0, 56.5, 57.4, 58.3,
            58.75, 59.0, 59.2, 59.7, 60.35, 60.8, 61.3, 61.95, 62.9, 63.8, 64.5, 65.2, 65.8, 66.5, 67.0, 67.9,
            68.8, 69.5, 70.2, 71.1, 72.0, 72.5, 73.2, 73.85, 74.3, 74.8, 75.2, 75.7, 76.4, 77.05, 77.5, 78.2,
            78.9, 79.6, 80.0, 80.5, 81.2, 82.1, 82.55, 83.2, 83.9, 84.6, 85.3, 86.0, 86.7, 87.35, 88.0, 88.5,
            89.2, 89.9, 90.6, 91.2, 91.9, 92.6, 93.5, 94.2, 95.1, 95.8, 96.5, 96.96, 97.2, 97.64, 98.33, 99.02,
            99.7, 100.16, 100.62, 101.08, 101.4, 101.76, 102.22, 102.68, 103.36, 104.05, 104.74, 105.19, 105.65,
            106.11, 106.8, 107.48, 107.94, 108.4, 108.85, 109.31, 109.77, 110.23, 110.68, 111.37, 111.83, 112.52,
            112.97, 113.66, 114.35, 115.03, 115.49, 115.95, 116.4, 116.86, 117.55, 118.24, 118.92, 119.38, 119.84,
            120.52, 121.21, 122.12, 122.58, 123.04, 123.27, 123.72, 124.18, 124.64, 125.1, 125.56, 126.01, 126.47,
            126.93, 127.39, 127.84, 128.3, 128.76, 129.22, 129.67, 130.13, 130.82, 131.73, 132.42, 133.1, 133.79,
            134.48, 135.39, 136.08, 136.54, 136.99, 137.45, 138.14, 138.83, 139.51, 139.97, 140.66, 141.11, 141.8,
            142.49, 142.94, 143.63]
s3_ben_v = [9.0, 8.82, 8.01, 6.98, 5.95, 5.21, 4.47, 4.18, 4.40, 3.44, 2.71, 1.97, 1.38, 1.35, 2.34, 1.60, 1.53, 2.71,
            3.96, 4.92, 5.72, 4.92, 5.50, 6.31, 7.12, 6.72, 6.75, 6.72, 6.83, 6.90, 6.64, 6.75, 6.68, 6.75,
            7.05, 7.09, 7.27, 8.08, 7.93, 7.71, 7.27, 6.39, 5.87, 5.28, 4.25, 3.74, 3.22, 2.97, 3.37, 3.74,
            3.08, 2.97, 3.08, 2.71, 3.30, 3.52, 4.69, 5.80, 6.53, 6.79, 6.90, 6.79, 6.68, 6.46, 6.42, 6.31,
            6.79, 6.46, 6.09, 6.53, 6.61, 6.72, 6.46, 6.42, 6.46, 6.90, 7.42, 7.67, 7.49, 7.86, 7.71, 7.27,
            6.68, 5.80, 4.92, 3.96, 3.08, 2.34, 1.90, 1.79, 1.60, 2.19, 2.41, 1.97, 1.46, 2.16, 2.30, 2.56,
            2.56, 3.44, 4.92, 6.39, 6.90, 6.61, 6.31, 6.53, 6.57, 6.57, 6.46, 6.90, 6.79, 7.05, 6.90, 6.83,
            6.68, 6.83, 7.31, 7.56, 7.93, 7.64, 6.98, 6.24, 5.28, 4.33, 3.66, 3.37, 3.26, 3.66, 4.33, 4.77,
            4.99, 4.77, 5.14, 6.39, 6.98, 7.56, 8.08, 7.79, 7.49, 7.12, 7.12, 6.98, 6.94, 7.16, 7.20, 7.42,
            7.20, 6.98, 7.01, 6.94, 6.90, 7.20, 7.53, 7.79, 7.97, 7.93, 7.56, 6.98, 6.68, 7.42, 6.83, 6.31,
            5.72, 5.43, 5.80, 5.28, 4.80, 5.28, 6.39, 7.23, 7.27, 7.31, 7.56, 7.67, 7.49,
            7.05, 7.42, 7.93, 7.79, 7.12, 6.75, 6.46, 6.75, 6.61, 6.31, 5.80, 5.43, 4.92,
            4.36, 4.77, 4.92, 5.36, 4.95, 4.77, 5.28, 6.46, 6.68, 7.64, 7.05, 6.83, 6.39,
            6.31, 6.53, 6.68, 6.75, 6.31, 6.06, 5.95, 6.31, 6.61, 6.24, 6.02, 6.39, 7.20,
            7.42, 7.86, 8.30, 8.19, 8.26, 8.45, 8.30, 8.01, 7.86, 7.42, 6.90, 6.24, 6.09,
            5.87, 5.76, 5.36, 4.62, 5.36, 5.72, 5.43, 5.28, 5.50, 5.72, 6.09, 6.46, 6.98,
            7.12, 7.01, 7.05]

freshwater_t = [127.2, 127.2, 126.4]
logger_off = (0, 24)
site_names = ['Site 1', 'Site 2', 'Site 3']

# ---------------- styling ----------------
purple = '#7b4ea3'
orange = '#f9a11b'
fresh_gray = '#b7b7b7'
spine_col = '#3a3a3a'

# text sizes depend on how narrow the chosen face is
if font_note in ('narrow', 'roboto-c', 'dejavu-c'):
    fs_tick, fs_lab, fs_site, fs_expl, fs_leg, fs_note = 14, 16.3, 15, 16, 15, 14
else:
    fs_tick, fs_lab, fs_site, fs_expl, fs_leg, fs_note = 13, 14, 14, 14.5, 13, 13

fig = plt.figure(figsize=(11.71, 15.22), dpi=100)
W, H = 1171, 1522
panel_px = [(38, 443), (497, 950), (1003, 1456)]
left_px, right_px = 72, 1168

series = [
    (s1_ben_t, s1_ben_v, s1_co2_t, s1_co2_v, s1_ref_t, s1_ref_v),
    (s2_ben_t, s2_ben_v, s2_co2_t, s2_co2_v, s2_ref_t, s2_ref_v),
    (s3_ben_t, s3_ben_v, s3_co2_t, s3_co2_v, s3_ref_t, s3_ref_v),
]
expl_pos = [(0.572, 0.351), (0.572, 0.2276), (0.574, 0.2053)]
leg_pos = [(0.6093, 0.217), (0.6093, 0.1075), (0.6113, 0.0855)]

axes = []
for i, (top, bot) in enumerate(panel_px):
    ax = fig.add_axes([left_px / W, 1 - bot / H, (right_px - left_px) / W, (bot - top) / H])
    axes.append(ax)
    bt, bv, ct, cv, rt, rv = series[i]

    if i == 0:
        ax.axvspan(logger_off[0], logger_off[1], color='#e6e7e8', lw=0, zorder=0)
        ax.text(np.mean(logger_off), 5.16, 'Logger off', ha='center', va='center', fontsize=fs_note)

    l_ref, = ax.plot(rt, rv, color='black', lw=1.6, ls=(0, (1, 2.4)), label='Reference', zorder=3)
    l_ben, = ax.plot(bt, bv, color=purple, lw=1.6, ls=(0, (4.5, 2.5)), label='Benthic mat', zorder=4)
    l_co2, = ax.plot(ct, cv, color=orange, lw=1.6, label='Carbon dioxide mat', zorder=5)
    l_fw = ax.axvline(freshwater_t[i], color=fresh_gray, lw=1.5, ls=(0, (4, 3)),
                      label='Influx of freshwater', zorder=2)

    ax.set_xlim(0, 150.45)
    ax.set_ylim(0, 10)
    ax.set_xticks(np.arange(0, 145, 24))
    ax.set_yticks(np.arange(0, 11, 2))
    ax.tick_params(direction='in', top=True, right=True, length=6, width=0.9,
                   colors=spine_col, labelcolor='#222222', labelsize=fs_tick, pad=6)
    if i < 2:
        ax.tick_params(labelbottom=False)
    if i == 0:
        # left ticks point outward beside the grey band, right ticks stay inward
        ax.tick_params(axis='y', direction='out', right=False, pad=0.5)
        sec = ax.secondary_yaxis('right')
        sec.set_yticks(np.arange(0, 11, 2))
        sec.tick_params(direction='in', length=6, width=0.9, colors=spine_col, labelright=False)
        sec.spines['right'].set_color(spine_col)
    for s in ax.spines.values():
        s.set_color(spine_col)
        s.set_linewidth(1.0)

    ax.text(0.0, 1.0 + 20 / (bot - top), site_names[i], transform=ax.transAxes,
            ha='left', va='center', fontsize=fs_site, fontweight='bold')

    ax.text(expl_pos[i][0], expl_pos[i][1], 'EXPLANATION', transform=ax.transAxes,
            ha='center', va='center', fontsize=fs_expl, fontweight='bold', color='#222222')
    ax.legend(handles=[l_ben, l_co2, l_ref, l_fw], ncol=2, loc='center',
              bbox_to_anchor=leg_pos[i], frameon=False,
              prop={'weight': 'bold', 'size': fs_leg}, handlelength=1.75, handletextpad=0.77,
              columnspacing=1.29, labelspacing=0.46, borderpad=0)

axes[2].set_xlabel('Elapsed time, in hours', fontsize=fs_lab, labelpad=9)
fig.text(18 / W, 1 - 723 / H, 'Dissolved oxygen, in milligrams per liter', rotation=90,
         ha='center', va='center', fontsize=fs_lab)

fig.savefig('out.png', dpi=100)
